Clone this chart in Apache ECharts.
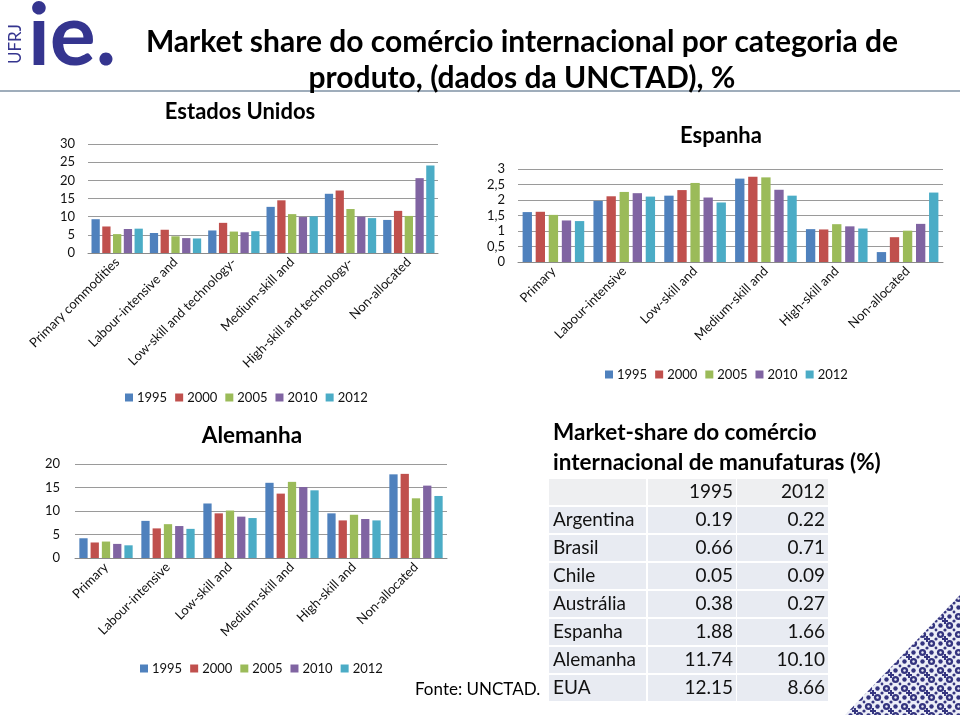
<!DOCTYPE html>
<html><head><meta charset="utf-8">
<script src="https://cdn.jsdelivr.net/npm/echarts@6/dist/echarts.min.js"></script>
<style>html,body{margin:0;padding:0;background:#fff}#c{width:960px;height:715px}</style>
</head><body><div id="c"></div>
<script>
// ---------- DATA ----------
const years = ['1995', '2000', '2005', '2010', '2012'];
const categoriesUS = ['Primary commodities', 'Labour-intensive and', 'Low-skill and technology-', 'Medium-skill and', 'High-skill and technology-', 'Non-allocated'];
const categoriesShort = ['Primary', 'Labour-intensive', 'Low-skill and', 'Medium-skill and', 'High-skill and', 'Non-allocated'];

const us1995 = [9.3, 5.5, 6.2, 12.7, 16.3, 9.1];
const us2000 = [7.3, 6.4, 8.3, 14.5, 17.2, 11.6];
const us2005 = [5.2, 4.6, 5.9, 10.7, 12.1, 10.2];
const us2010 = [6.6, 4.1, 5.7, 9.9, 10.0, 20.6];
const us2012 = [6.7, 4.0, 6.0, 10.1, 9.6, 24.1];

const es1995 = [1.61, 1.97, 2.14, 2.69, 1.06, 0.32];
const es2000 = [1.62, 2.12, 2.32, 2.75, 1.05, 0.80];
const es2005 = [1.52, 2.26, 2.55, 2.73, 1.22, 1.01];
const es2010 = [1.34, 2.22, 2.08, 2.33, 1.15, 1.23];
const es2012 = [1.32, 2.11, 1.92, 2.14, 1.08, 2.24];

const de1995 = [4.2, 7.9, 11.6, 16.0, 9.5, 17.8];
const de2000 = [3.3, 6.3, 9.5, 13.7, 8.0, 17.9];
const de2005 = [3.5, 7.2, 10.1, 16.2, 9.2, 12.7];
const de2010 = [3.0, 6.8, 8.8, 15.1, 8.3, 15.4];
const de2012 = [2.7, 6.2, 8.5, 14.4, 8.0, 13.2];

const usTicks = [0, 5, 10, 15, 20, 25, 30];
const esTicks = [0, 0.5, 1, 1.5, 2, 2.5, 3];
const deTicks = [0, 5, 10, 15, 20];

const tableHeader = ['', '1995', '2012'];
const countries = ['Argentina', 'Brasil', 'Chile', 'Austrália', 'Espanha', 'Alemanha', 'EUA'];
const share1995 = [0.19, 0.66, 0.05, 0.38, 1.88, 11.74, 12.15];
const share2012 = [0.22, 0.71, 0.09, 0.27, 1.66, 10.10, 8.66];

// ---------- STYLE ----------
const colors = ['#4F81BD', '#C0504D', '#9BBB59', '#8064A2', '#4BACC6'];
const FONT = 'Lato';
const chart = echarts.init(document.getElementById('c'), null, {renderer: 'canvas'});

const usData = [us1995, us2000, us2005, us2010, us2012];
const esData = [es1995, es2000, es2005, es2010, es2012];
const deData = [de1995, de2000, de2005, de2010, de2012];

function xAx(gi, cats) {
  return {
    type: 'category', gridIndex: gi, data: cats,
    axisTick: {show: false},
    axisLine: {lineStyle: {color: '#8a8a8a', width: 1}},
    axisLabel: {rotate: 45, interval: 0, margin: 7, color: '#111', fontFamily: FONT, fontSize: 13}
  };
}
function yAx(gi, ticks, fmt, margin) {
  return {
    type: 'value', gridIndex: gi, min: ticks[0], max: ticks[ticks.length - 1],
    interval: ticks[1] - ticks[0],
    axisLine: {show: false}, axisTick: {show: false},
    splitLine: {lineStyle: {color: '#9a9a9a', width: 1}},
    axisLabel: {color: '#111', fontFamily: FONT, fontSize: 13, margin: margin, formatter: fmt}
  };
}
const series = [];
[[usData, 0, '12%', '30%'], [esData, 1, '13%', '40%'], [deData, 2, '14%', '36%']].forEach(([arr, gi, cg, bg]) => {
  arr.forEach((d, i) => {
    series.push({
      type: 'bar', name: years[i], xAxisIndex: gi, yAxisIndex: gi, data: d,
      barCategoryGap: cg, barGap: bg,
      itemStyle: {color: colors[i]}, animation: false
    });
  });
});

function legend(left, top) {
  return {
    data: years, left: left, top: top, padding: 0, itemWidth: 8, itemHeight: 8, itemGap: 8, icon: 'rect',
    textStyle: {fontFamily: FONT, fontSize: 13, color: '#111', padding: [0, 0, 0, -1]},
    selectedMode: false
  };
}

const graphics = [];
graphics.push({type: 'line', z: 0, shape: {x1: 0, y1: 91, x2: 960, y2: 91}, style: {stroke: '#7f92a4', lineWidth: 1.5}});
// logo
graphics.push({type: 'text', z: 5, x: 28, y: -6, style: {text: 'ie.', fontFamily: 'Lato', fontWeight: 'bold', fontSize: 86, fill: '#35358f'}});
graphics.push({type: 'text', z: 5, x: 7, y: 64, rotation: Math.PI / 2, style: {text: 'UFRJ', fontFamily: 'Lato', fontSize: 17, fill: '#35358f'}});

// table built from data
const colX = [549, 647, 736, 828], rowTop = 478, rowH = 28;
const rows = [tableHeader].concat(countries.map((c, i) => [c, share1995[i].toFixed(2), share2012[i].toFixed(2)]));
rows.forEach((r, ri) => {
  for (let ci = 0; ci < 3; ci++) {
    graphics.push({type: 'rect', z: 1, shape: {x: colX[ci] + (ci ? 1 : 0), y: rowTop + ri * rowH + 1, width: colX[ci + 1] - colX[ci] - 1, height: rowH - 2},
      style: {fill: ri === 0 ? '#eeeff1' : '#e8ebf2'}});
    const txt = r[ci];
    if (!txt) continue;
    graphics.push({type: 'text', z: 3,
      x: ci === 0 ? 553 : colX[ci + 1] - 3, y: rowTop + ri * rowH + rowH / 2,
      style: {text: txt, fontFamily: FONT, fontSize: 19, fill: '#111', align: ci === 0 ? 'left' : 'right', verticalAlign: 'middle'}});
  }
});

// decorative triangle pattern
const pc = document.createElement('canvas');
pc.width = 18; pc.height = 18;
const g = pc.getContext('2d');
g.fillStyle = '#eceef7'; g.fillRect(0, 0, 18, 18);
g.fillStyle = '#34347f';
[[4.5, 4.5, 3.6], [13.5, 13.5, 3.6], [13.5, 4.5, 2.2], [4.5, 13.5, 2.2], [0, 9, 1.6], [9, 0, 1.6], [18, 9, 1.6], [9, 18, 1.6], [0, 0, 1.4], [18, 0, 1.4], [0, 18, 1.4], [18, 18, 1.4]].forEach(([x, y, r]) => {
  g.beginPath(); g.arc(x, y, r, 0, Math.PI * 2); g.fill();
});
g.fillRect(8, 6, 2, 6); g.fillRect(6, 8, 6, 2);
g.fillStyle = '#eceef7';
g.beginPath(); g.arc(4.5, 4.5, 1.2, 0, Math.PI * 2); g.fill();
g.beginPath(); g.arc(13.5, 13.5, 1.2, 0, Math.PI * 2); g.fill();
graphics.push({type: 'polygon', z: 1, shape: {points: [[845, 715], [960, 595], [960, 715]]},
  style: {fill: {image: pc, repeat: 'repeat'}}});

const T = (text, left, top, size, extra) => Object.assign({text, left, top, padding: 0,
  textStyle: {fontFamily: FONT, fontWeight: 'bold', fontSize: size, color: '#000'}}, extra || {});

const option = {
  animation: false,
  backgroundColor: '#fff',
  title: [
    T('Market share do comércio internacional por categoria de\nproduto, (dados da UNCTAD), %', 522, 24, 30, {textAlign: 'center',
      textStyle: {fontFamily: FONT, fontWeight: 'bold', fontSize: 30, lineHeight: 36, color: '#000'}}),
    T('Estados Unidos', 240, 101, 22, {textAlign: 'center'}),
    T('Espanha', 721, 125, 22, {textAlign: 'center'}),
    T('Alemanha', 252, 424, 22.5, {textAlign: 'center'}),
    T('Market-share do comércio\ninternacional de manufaturas (%)', 553, 418, 22.5, {
      textStyle: {fontFamily: FONT, fontWeight: 'bold', fontSize: 22.5, lineHeight: 30, color: '#000'}}),
    T('Fonte: UNCTAD.', 415, 681, 17, {textStyle: {fontFamily: FONT, fontWeight: 'normal', fontSize: 17, color: '#000'}})
  ],
  legend: [legend(125, 391), legend(605, 368), legend(140, 662)],
  grid: [
    {left: 88, top: 144, width: 350, height: 109},
    {left: 518, top: 169, width: 425, height: 93},
    {left: 75, top: 464, width: 372, height: 94}
  ],
  xAxis: [xAx(0, categoriesUS), xAx(1, categoriesShort), xAx(2, categoriesShort)],
  yAxis: [
    yAx(0, usTicks, v => String(v), 13),
    yAx(1, esTicks, v => String(v).replace('.', ','), 13),
    yAx(2, deTicks, v => String(v), 15)
  ],
  series: series,
  graphic: graphics
};
chart.setOption(option);
</script></body></html>
